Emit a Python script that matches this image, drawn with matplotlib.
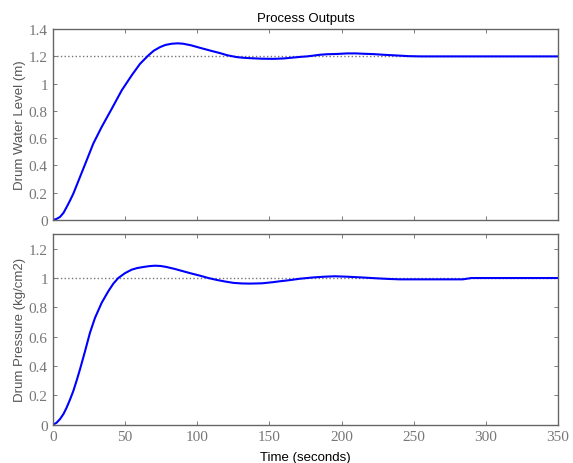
import numpy as np
import matplotlib
matplotlib.use("Agg")
import matplotlib.pyplot as plt

# drum water level (m)
t_level = [0, 2.5, 5.1, 7.5, 9.7, 12, 14.3, 18.9, 23.5, 28.1, 33.9, 40.9, 47.8, 54.7,
           60.5, 66.2, 70, 74.3, 78, 82.4, 86.5, 90.4, 96, 102, 109, 115.9, 121,
           127.4, 132, 136.6, 145, 153, 160, 167, 172, 176, 180, 185, 190, 197, 204,
           210, 216, 222, 229, 238, 246, 255, 300, 350]
level = [0, 0.006, 0.022, 0.052, 0.095, 0.142, 0.193, 0.315, 0.437, 0.56, 0.682, 0.816,
         0.951, 1.061, 1.146, 1.207, 1.242, 1.268, 1.284, 1.293, 1.296, 1.293, 1.281,
         1.263, 1.243, 1.224, 1.208, 1.195, 1.190, 1.187, 1.183, 1.182, 1.185, 1.192,
         1.197, 1.200, 1.205, 1.212, 1.216, 1.218, 1.222, 1.222, 1.219, 1.217, 1.212,
         1.207, 1.202, 1.2, 1.2, 1.2]

# drum pressure (kg/cm2)
t_press = [0, 2.5, 5.1, 7.5, 9.7, 12, 14.3, 16.6, 18.9, 22.4, 25.8, 29.3, 33.9, 38.5,
           42, 45.4, 50, 54.7, 58.5, 62.7, 66.8, 70.8, 74.8, 78.9, 84.5, 90.4, 96,
           102, 107.8, 113.6, 119.5, 125.1, 131, 136.6, 145, 152.8, 157.4, 162,
           166.6, 171, 180.4, 188, 195.4, 203.6, 214, 224.3, 232, 240.4, 284, 290, 350]
press = [0, 0.012, 0.039, 0.074, 0.118, 0.172, 0.231, 0.302, 0.378, 0.502, 0.627, 0.729,
         0.831, 0.91, 0.962, 1.0, 1.033, 1.057, 1.068, 1.075, 1.081, 1.084, 1.082,
         1.075, 1.062, 1.046, 1.031, 1.016, 1.0, 0.987, 0.976, 0.967, 0.963, 0.962,
         0.964, 0.972, 0.978, 0.983, 0.989, 0.995, 1.004, 1.009, 1.012, 1.009, 1.004,
         0.998, 0.994, 0.991, 0.991, 1.0, 1.0]

level_sp = 1.2
press_sp = 1.0
xticks = [0, 50, 100, 150, 200, 250, 300, 350]

fig = plt.figure(figsize=(5.73, 4.64), dpi=100)
ax1 = fig.add_axes([0.092, 0.524, 0.882, 0.411])
ax2 = fig.add_axes([0.092, 0.0825, 0.882, 0.411])

tick_col = "#777777"
lab_col = "#555555"
spine_col = "#666666"

for ax in (ax1, ax2):
    ax.set_xlim(0, 350)
    ax.set_xticks(xticks)
    ax.tick_params(direction="in", top=True, right=True, length=3, width=0.6,
                   colors=spine_col, labelcolor=tick_col, labelsize=11)
    for s in ax.spines.values():
        s.set_color(spine_col)
        s.set_linewidth(1.0)

ax1.plot([0, 350], [level_sp, level_sp], ls=":", color="#777777", lw=1.0)
ax1.plot(t_level, level, color="#0000ff", lw=1.5)
ax1.set_ylim(0, 1.4)
ax1.set_yticks([0, 0.2, 0.4, 0.6, 0.8, 1, 1.2, 1.4])
ax1.set_yticklabels(["0", "0.2", "0.4", "0.6", "0.8", "1", "1.2", "1.4"],
                    family="Liberation Serif")
ax1.set_xticklabels([])
ax1.set_ylabel("Drum Water Level (m)", family="Liberation Sans", fontsize=9.5,
               color=lab_col, labelpad=2)
ax1.set_title("Process Outputs", family="Liberation Sans", fontsize=9.5, pad=6)

ax2.plot([0, 350], [press_sp, press_sp], ls=":", color="#777777", lw=1.0)
ax2.plot(t_press, press, color="#0000ff", lw=1.5)
ax2.set_ylim(0, 1.3)
ax2.set_yticks([0, 0.2, 0.4, 0.6, 0.8, 1, 1.2])
ax2.set_yticklabels(["0", "0.2", "0.4", "0.6", "0.8", "1", "1.2"],
                    family="Liberation Serif")
ax2.set_xticklabels([str(v) for v in xticks], family="Liberation Serif")
ax2.set_ylabel("Drum Pressure (kg/cm2)", family="Liberation Sans", fontsize=9.5,
               color=lab_col, labelpad=2)
ax2.set_xlabel("Time (seconds)", family="Liberation Sans", fontsize=9.5, labelpad=6)

fig.savefig("out.png", dpi=100)
